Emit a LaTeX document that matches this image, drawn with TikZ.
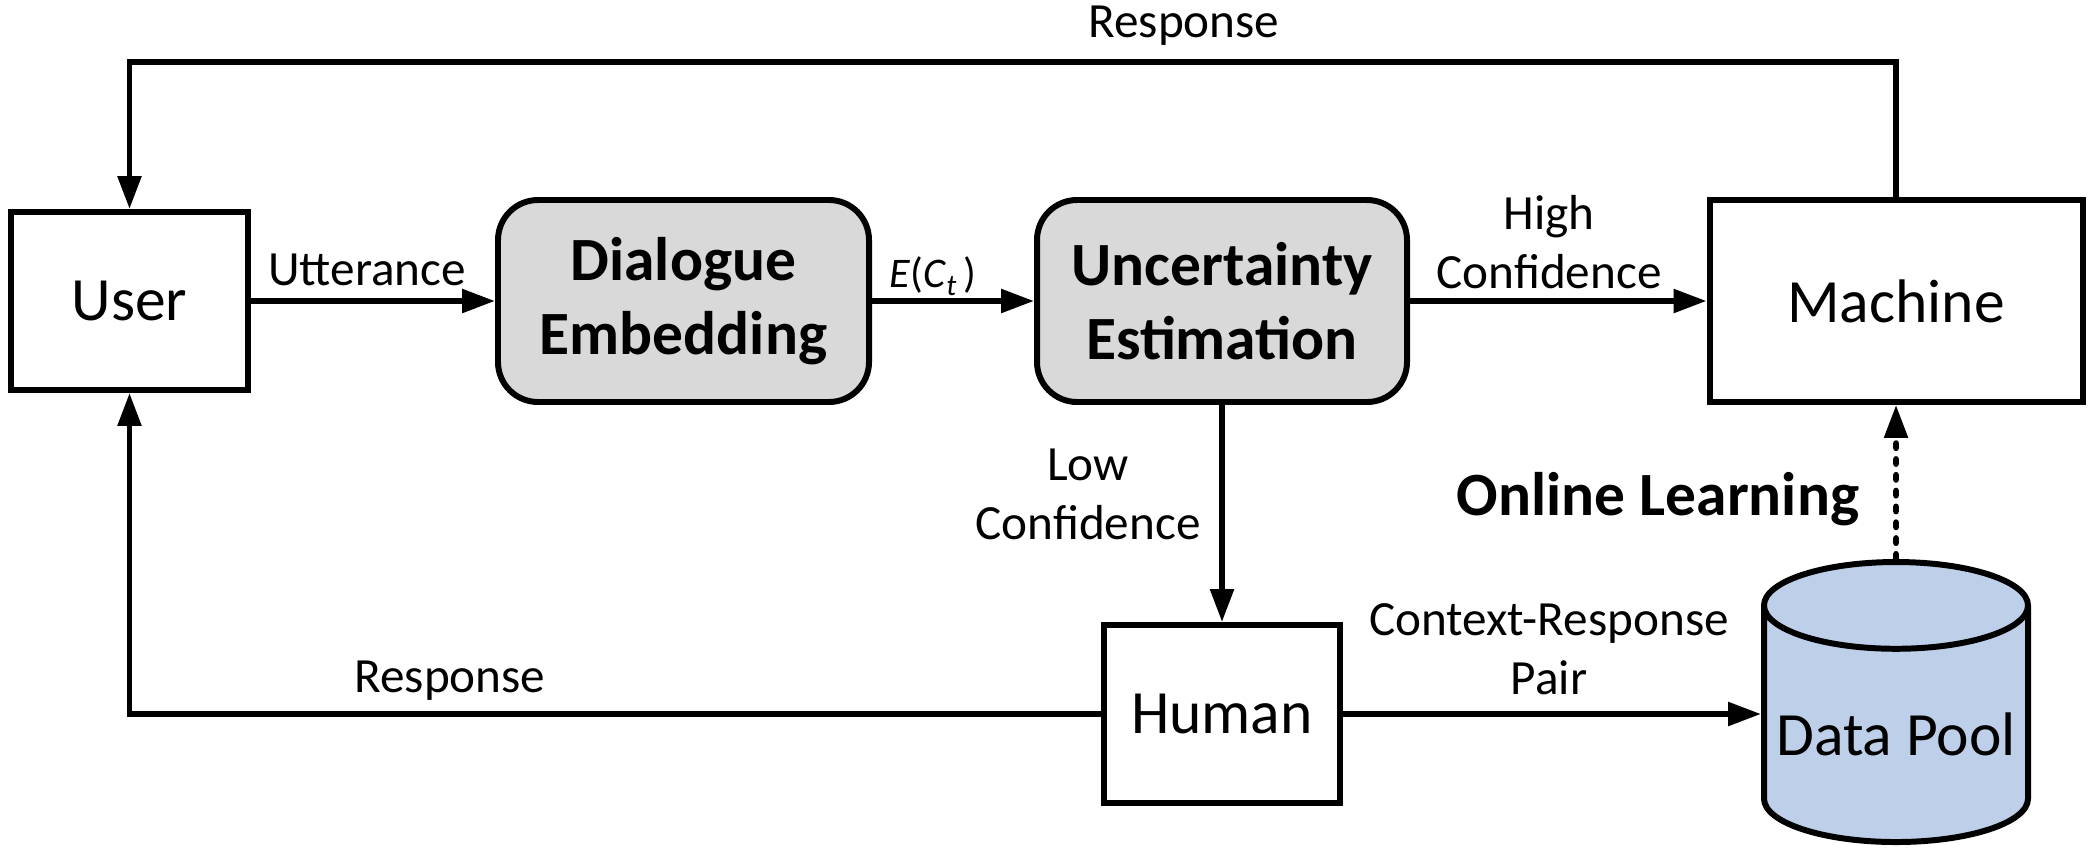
\documentclass[tikz,border=0pt]{standalone}
\usepackage{fontspec}
\setmainfont{Carlito}
\usepackage{tikz}
\usetikzlibrary{arrows.meta,shapes.geometric}

\definecolor{boxgrey}{RGB}{217,217,217}
\definecolor{poolblue}{RGB}{190,208,233}

\begin{document}
\begin{tikzpicture}[
    x=1cm,
    y=1cm,
    box/.style={
        draw,
        line width=1.7pt,
        fill=white,
        align=center,
        font=\fontsize{17.5}{21}\selectfont
    },
    stage/.style={
        box,
        fill=boxgrey,
        rounded corners=0.4cm,
        font=\fontsize{17.5}{21}\selectfont\bfseries
    },
    store/.style={
        box,
        fill=poolblue,
        cylinder,
        shape border rotate=90,
        aspect=0.33
    },
    flow/.style={
        line width=1.6pt,
        -{Triangle[length=3.3mm,width=2.3mm]}
    },
    learn/.style={
        flow,
        line cap=round,
        dash pattern=on 1.5pt off 3pt
    },
    lbl/.style={
        inner sep=0pt,
        align=center,
        font=\fontsize{14}{16.8}\selectfont
    }
]

\useasboundingbox (0,0) rectangle (20.93,8.56);


\node[box, minimum width=2.37cm, minimum height=1.78cm] (user) at (1.295,5.55) {User};
\node[stage, minimum width=3.71cm, minimum height=2.02cm] (embed) at (6.835,5.55) {Dialogue\\Embedding};
\node[stage, minimum width=3.70cm, minimum height=2.02cm] (uncert) at (12.22,5.55) {Uncertainty\\Estimation};
\node[box, minimum width=3.73cm, minimum height=2.02cm] (machine) at (18.96,5.55) {Machine};
\node[box, minimum width=2.36cm, minimum height=1.78cm] (human) at (12.22,1.42) {Human};
\node[store, minimum width=2.64cm, minimum height=2.8cm, anchor=south] (pool) at (18.96,0.11) {Data Pool};


\draw[flow] (user) -- (embed);
\draw[flow] (embed) -- (uncert);
\draw[flow] (uncert) -- (machine);
\draw[flow] (machine.north) -- ++(0,1.35) -| (user.north);
\draw[flow] (uncert) -- (human);
\draw[flow] (human.west) -| (user.south);
\draw[flow] (human.east) -- (human.east -| pool.west);
\draw[learn] (pool.north) -- (machine.south);


\node[lbl] (utter) at (3.67,5.86) {Utterance};
\node[lbl, font=\fontsize{12}{14}\selectfont] (embout) at (9.33,5.80)
    {\textit{E}(\textit{C}\raisebox{-2.3pt}{\fontsize{8.5}{10}\selectfont\itshape t}\,)};
\node[lbl] (high) at (15.49,6.14) {High\\Confidence};
\node[lbl] (resptop) at (11.84,8.30) {Response};
\node[lbl] (low) at (10.88,3.62) {Low\\Confidence};
\node[lbl, font=\fontsize{17.5}{21}\selectfont\bfseries] (online) at (16.58,3.57) {Online Learning};
\node[lbl] (respbot) at (4.50,1.75) {Response};
\node[lbl] (pair) at (15.49,2.07) {Context-Response\\Pair};

\end{tikzpicture}
\end{document}
